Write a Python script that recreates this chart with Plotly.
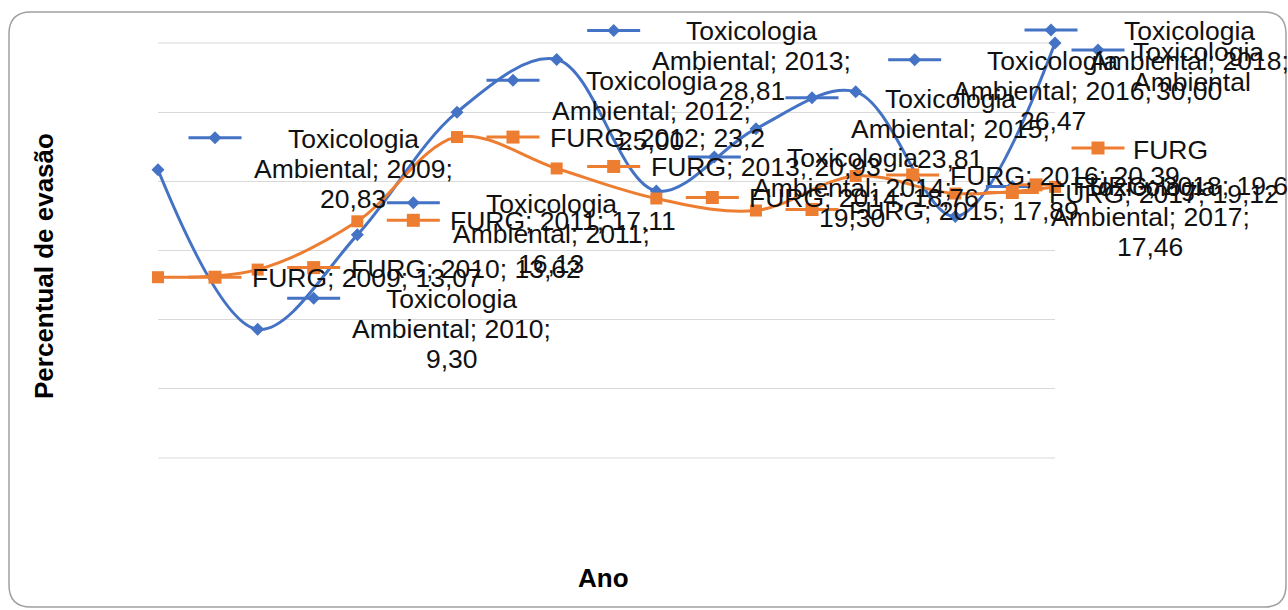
import plotly.graph_objects as go

# ---------------- data ----------------
years = [2009, 2010, 2011, 2012, 2013, 2014, 2015, 2016, 2017, 2018]
toxicologia = [20.83, 9.30, 16.13, 25.00, 28.81, 19.30, 23.81, 26.47, 17.46, 30.00]
furg = [13.07, 13.62, 17.11, 23.2, 20.93, 18.76, 17.89, 20.39, 19.12, 19.6]
series_names = ["Toxicologia Ambiental", "FURG"]
legend_lines = [["Toxicologia", "Ambiental"], ["FURG"]]
x_title = "Ano"
y_title = "Percentual de evasão"

# ---------------- layout / style ----------------
W_FIG, H_FIG = 1288, 610
L, R, T, B = 158, 233, 43, 152
PW, PH = W_FIG - L - R, H_FIG - T - B
X_RANGE = [2009, 2018]
Y_RANGE = [0, 30]
BLUE = "#4472C4"
ORANGE = "#ED7D31"
GRID = "#d9d9d9"
FONT = "Liberation Sans, Arial, sans-serif"
FS = 26.5
TXT = "#111111"

# data-label key offsets from their point (pixels: right, down)
ta_key_offsets = [(57, -32), (56, -31), (56, -32), (56, -32), (57, -29),
                  (58, -34), (56, -31), (59, -32), (57, -30), (-4, -13)]
furg_key_offsets = [(57, 0), (56, -2), (56, -1), (56, 0), (57, -2),
                    (56, -1), (56, -1), (57, -1), (57, -1), (-19, -2)]

fig = go.Figure()

fig.add_trace(go.Scatter(
    x=years, y=toxicologia, name=series_names[0], mode="lines+markers",
    line=dict(color=BLUE, width=3, shape="spline", smoothing=1),
    marker=dict(symbol="diamond", size=10, color=BLUE),
    cliponaxis=False, showlegend=False))
fig.add_trace(go.Scatter(
    x=years, y=furg, name=series_names[1], mode="lines+markers",
    line=dict(color=ORANGE, width=3, shape="spline", smoothing=1),
    marker=dict(symbol="square", size=12, color=ORANGE),
    cliponaxis=False, showlegend=False))

shapes = []
annotations = []

# gridlines at the range edges (plotly omits them)
for fy in (0, 1):
    shapes.append(dict(type="line", xref="x domain", yref="y domain",
                       x0=0, x1=1, y0=fy, y1=fy,
                       line=dict(color=GRID, width=1), layer="below"))


def frac_x(v):
    return (v - X_RANGE[0]) / (X_RANGE[1] - X_RANGE[0])


def frac_y(v):
    return (v - Y_RANGE[0]) / (Y_RANGE[1] - Y_RANGE[0])


def px_paper_x(px):
    return (px - L) / PW


def px_paper_y(py):
    return (H_FIG - B - py) / PH


def add_key(xref, yref, ax, ay, dx, dy, color, symbol):
    """legend key (short line + marker) centred dx,dy pixels (down = +) from anchor"""
    shapes.append(dict(type="line", xref=xref, yref=yref, xsizemode="pixel",
                       ysizemode="pixel", xanchor=ax, yanchor=ay,
                       x0=dx - 26.5, x1=dx + 26.5, y0=-dy, y1=-dy,
                       line=dict(color=color, width=3), layer="above"))
    cy = -dy
    h = 6.5
    if symbol == "diamond":
        path = (f"M{dx},{cy + h} L{dx + h},{cy} L{dx},{cy - h} L{dx - h},{cy} Z")
    else:
        path = (f"M{dx - h},{cy - h} L{dx + h},{cy - h} L{dx + h},{cy + h} "
                f"L{dx - h},{cy + h} Z")
    shapes.append(dict(type="path", xref=xref, yref=yref, xsizemode="pixel",
                       ysizemode="pixel", xanchor=ax, yanchor=ay, path=path,
                       fillcolor=color, line=dict(color=color, width=0),
                       layer="above"))


def fmt2(v):
    return f"{v:.2f}".replace(".", ",")


def fmtg(v):
    return f"{v:g}".replace(".", ",")


# data labels: Toxicologia Ambiental (3 centred lines)
for yr, v, (dx, dy) in zip(years, toxicologia, ta_key_offsets):
    add_key("x domain", "y domain", frac_x(yr), frac_y(v), dx, dy, BLUE, "diamond")
    lines = ["Toxicologia", f"Ambiental; {yr};", fmt2(v)]
    for i, ln in enumerate(lines):
        annotations.append(dict(
            x=yr, y=v, xref="x", yref="y", text=ln, showarrow=False,
            xanchor="center", yanchor="middle",
            xshift=dx + 138, yshift=-(dy + 1 + 30 * i),
            font=dict(family=FONT, size=FS, color=TXT)))

# data labels: FURG (single line)
for yr, v, (dx, dy) in zip(years, furg, furg_key_offsets):
    add_key("x domain", "y domain", frac_x(yr), frac_y(v), dx, dy, ORANGE, "square")
    annotations.append(dict(
        x=yr, y=v, xref="x", yref="y", text=f"FURG; {yr}; {fmtg(v)}",
        showarrow=False, xanchor="left", yanchor="middle",
        xshift=dx + 35, yshift=-(dy + 1),
        font=dict(family=FONT, size=FS, color=TXT)))

# manual legend (right side)
legend_pos = [(1098, 50), (1098, 148)]
legend_style = [(BLUE, "diamond"), (ORANGE, "square")]
for (kx, ky), (col, sym), lns in zip(legend_pos, legend_style, legend_lines):
    add_key("paper", "paper", px_paper_x(kx), px_paper_y(ky), 0, 0, col, sym)
    for i, ln in enumerate(lns):
        annotations.append(dict(
            x=px_paper_x(kx + 33), y=px_paper_y(ky + 2 + 30 * i),
            xref="paper", yref="paper", text=ln, showarrow=False,
            xanchor="left", yanchor="middle",
            font=dict(family=FONT, size=FS, color=TXT)))

# axis titles
annotations.append(dict(
    x=px_paper_x(603), y=px_paper_y(578), xref="paper", yref="paper",
    text=f"<b>{x_title}</b>", showarrow=False, xanchor="center", yanchor="middle",
    font=dict(family=FONT, size=26, color="#000000")))
annotations.append(dict(
    x=px_paper_x(44), y=px_paper_y(266), xref="paper", yref="paper",
    text=f"<b>{y_title}</b>", showarrow=False, textangle=-90,
    xanchor="center", yanchor="middle",
    font=dict(family=FONT, size=26, color="#000000")))

# chart border (rounded rectangle)
bx0, bx1 = 9 - L, 1286 - L
by0, by1 = (H_FIG - B) - 607, (H_FIG - B) - 12
r = 22
border = (f"M{bx0 + r},{by1} L{bx1 - r},{by1} Q{bx1},{by1} {bx1},{by1 - r} "
          f"L{bx1},{by0 + r} Q{bx1},{by0} {bx1 - r},{by0} L{bx0 + r},{by0} "
          f"Q{bx0},{by0} {bx0},{by0 + r} L{bx0},{by1 - r} Q{bx0},{by1} {bx0 + r},{by1} Z")
shapes.append(dict(type="path", xref="paper", yref="paper", xsizemode="pixel",
                   ysizemode="pixel", xanchor=0, yanchor=0, path=border,
                   line=dict(color="#a0a0a0", width=1.5), layer="below"))

fig.update_layout(
    width=W_FIG, height=H_FIG,
    margin=dict(l=L, r=R, t=T, b=B, autoexpand=False),
    paper_bgcolor="white", plot_bgcolor="white",
    showlegend=False,
    xaxis=dict(range=X_RANGE, showgrid=False, zeroline=False, showline=False,
               showticklabels=False, ticks=""),
    yaxis=dict(range=Y_RANGE, dtick=5, showgrid=True, gridcolor=GRID,
               gridwidth=1, zeroline=False, showline=False,
               showticklabels=False, ticks=""),
    shapes=shapes,
    annotations=annotations,
    font=dict(family=FONT),
)

fig.write_html("out.html",
               config={"displayModeBar": False},
               post_script="document.body.style.margin='0';document.body.style.overflow='hidden';")
